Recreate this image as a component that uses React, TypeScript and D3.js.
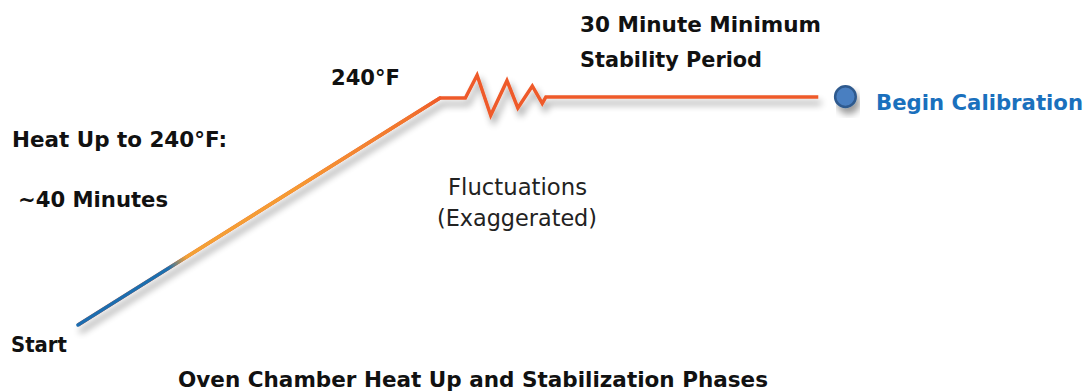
import React from "react";
import * as d3 from "d3";

const minutes = [0, 40, 42.8, 44.1, 45.6, 47.4, 48.6, 50.2, 51.3, 51.7, 81.8];
const temps = [70, 240, 240, 257, 227, 253, 232.5, 249, 236, 240.8, 240.8];
const calibrationPoint = { minute: 84.8, temp: 241 };

const W = 1087;
const H = 392;

const x = d3.scaleLinear().domain([0, 40]).range([78, 440]);
const y = d3.scaleLinear().domain([70, 240]).range([325, 98]);

const FONT = "'DejaVu Sans', 'Open Sans', sans-serif";

type Label = { t: string; x: number; y: number; fs: number; len: number; fill?: string };

const boldLabels: Label[] = [
  { t: "Heat Up to 240°F:", x: 12, y: 146.5, fs: 20.5, len: 215 },
  { t: "~40 Minutes", x: 18, y: 207, fs: 20.5, len: 150 },
  { t: "240°F", x: 331, y: 85, fs: 20.5, len: 69 },
  { t: "30 Minute Minimum", x: 580, y: 31.5, fs: 22, len: 241 },
  { t: "Stability Period", x: 580, y: 66.5, fs: 22, len: 182 },
  { t: "Start", x: 11, y: 352, fs: 20.5, len: 56 },
  { t: "Oven Chamber Heat Up and Stabilization Phases", x: 178, y: 387, fs: 20.5, len: 590 },
  { t: "Begin Calibration", x: 876, y: 110, fs: 21, len: 207, fill: "#1a70bd" },
];

const plainLabels: Label[] = [
  { t: "Fluctuations", x: 448, y: 195, fs: 23, len: 139 },
  { t: "(Exaggerated)", x: 437, y: 226, fs: 23, len: 160 },
];

export default function App() {
  const pts: [number, number][] = minutes.map((m, i) => [x(m), y(temps[i])]);
  const line = d3.line().curve(d3.curveLinear)(pts) || "";
  const x0 = x(minutes[0]);
  const y0 = y(temps[0]);
  const x1 = x(40);
  const y1 = y(240);
  return (
    <svg width={W} height={H} style={{ position: "absolute", left: 0, top: 0, background: "#fff" }}>
      <defs>
        <linearGradient id="heat" gradientUnits="userSpaceOnUse" x1={x0} y1={y0} x2={x1} y2={y1}>
          <stop offset="0" stopColor="#1c6db0" />
          <stop offset="0.25" stopColor="#1f6fae" />
          <stop offset="0.3" stopColor="#f3a236" />
          <stop offset="0.6" stopColor="#f59a33" />
          <stop offset="0.92" stopColor="#f1742e" />
          <stop offset="1" stopColor="#ee5a2a" />
        </linearGradient>
        <filter id="shadow" x="-10%" y="-30%" width="130%" height="180%">
          <feGaussianBlur in="SourceAlpha" stdDeviation="3.5" />
          <feOffset dx="3" dy="6" result="b" />
          <feComponentTransfer>
            <feFuncA type="linear" slope="0.4" />
          </feComponentTransfer>
          <feMerge>
            <feMergeNode />
            <feMergeNode in="SourceGraphic" />
          </feMerge>
        </filter>
      </defs>

      <g filter="url(#shadow)">
        <path d={line} fill="none" stroke="#ee5a2a" strokeWidth={3.5} strokeLinejoin="miter" />
        <path
          d={d3.line()([pts[0], pts[1]]) || ""}
          fill="none"
          stroke="url(#heat)"
          strokeWidth={3.5}
          strokeLinecap="round"
        />
      </g>

      <circle
        cx={x(calibrationPoint.minute)}
        cy={y(calibrationPoint.temp)}
        r={10.3}
        fill="#4a7fc1"
        stroke="#2f5a8e"
        strokeWidth={2.5}
        filter="url(#shadow)"
      />

      <g fontFamily={FONT} fontWeight={700} fill="#111">
        {boldLabels.map((l) => (
          <text key={l.t} x={l.x} y={l.y} fontSize={l.fs} fill={l.fill} textLength={l.len} lengthAdjust="spacingAndGlyphs">
            {l.t}
          </text>
        ))}
      </g>
      <g fontFamily={FONT} fontWeight={400} fill="#222">
        {plainLabels.map((l) => (
          <text key={l.t} x={l.x} y={l.y} fontSize={l.fs} textLength={l.len} lengthAdjust="spacingAndGlyphs">
            {l.t}
          </text>
        ))}
      </g>
    </svg>
  );
}
